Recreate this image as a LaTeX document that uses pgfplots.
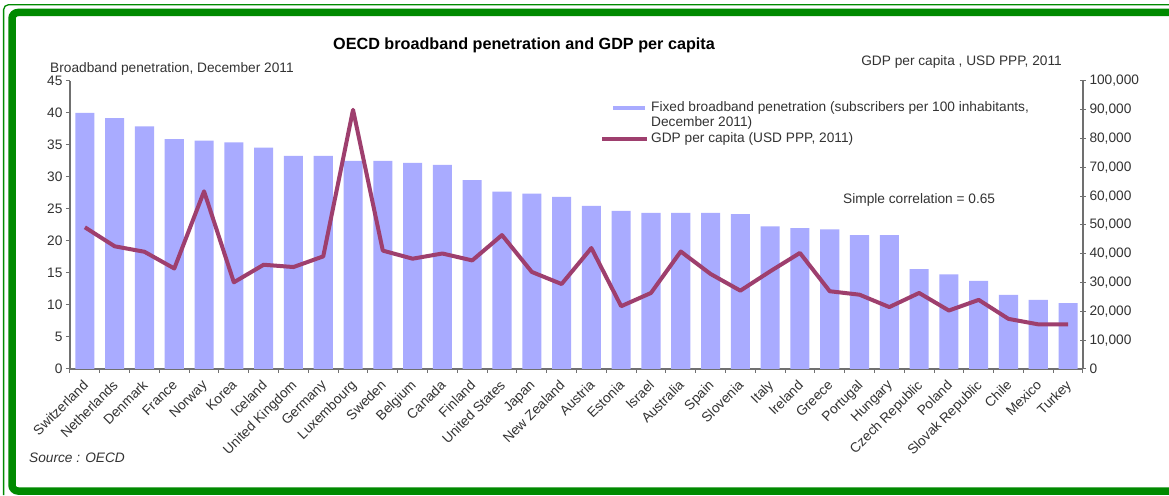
\documentclass[border=0pt]{standalone}
\usepackage{fontspec}
\setmainfont{Liberation Sans}
\usepackage{pgfplots}
\pgfplotsset{compat=1.18}
\definecolor{barcol}{HTML}{A9ABFF}
\definecolor{linecol}{HTML}{9E3F6E}
\definecolor{framecol}{HTML}{008A00}
\definecolor{axcol}{HTML}{707070}
\definecolor{txt}{HTML}{333333}
\newcommand{\fs}{\fontsize{13.7}{16}\selectfont}
\newcommand{\ft}{\fontsize{13.7}{16}\selectfont}
\begin{document}
\begin{tikzpicture}[x=1pt,y=1pt]
\useasboundingbox (0,0) rectangle (1169,495);
\fill[white] (0,0) rectangle (1169,495);
\draw[framecol, line width=1.3pt, rounded corners=5pt] (3.6,0) -- (3.6,490.3) -- (1169,490.3);
\draw[framecol, line width=7.5pt, rounded corners=6pt] (1169,482.5) -- (12,482.5) -- (12,4) -- (1169,4);

\begin{axis}[
  at={(70pt,126pt)}, anchor=south west, scale only axis,
  width=1013pt, height=288pt,
  xmin=-0.5, xmax=33.5, ymin=0, ymax=45,
  axis x line*=bottom, axis y line*=left,
  axis line style={axcol, line width=1.5pt},
  ytick={0,5,...,45},
  xtick={0,...,33},
  xticklabels={Switzerland,Netherlands,Denmark,France,Norway,Korea,Iceland,United Kingdom,Germany,Luxembourg,Sweden,Belgium,Canada,Finland,United States,Japan,New Zealand,Austria,Estonia,Israel,Australia,Spain,Slovenia,Italy,Ireland,Greece,Portugal,Hungary,Czech Republic,Poland,Slovak Republic,Chile,Mexico,Turkey},
  minor xtick={-0.5,0.5,...,33.5},
  major x tick style={draw=none},
  major tick length=4pt, minor tick length=4pt,
  tick align=outside,
  tick style={axcol, line width=1pt},
  ticklabel style={font=\fs, text=txt},
  xticklabel style={xshift=-3pt, yshift=-6pt, rotate=45, anchor=north east, inner sep=0pt},
  /pgf/number format/assume math mode=true,
  clip=false,
]
\addplot[ybar, bar width=0.64, fill=barcol, draw=none] coordinates {
(0,40.0) (1,39.2) (2,37.9) (3,35.9) (4,35.7) (5,35.4) (6,34.6) (7,33.3) (8,33.3) (9,32.5)
(10,32.5) (11,32.2) (12,31.9) (13,29.5) (14,27.7) (15,27.4) (16,26.9) (17,25.5) (18,24.7) (19,24.4)
(20,24.4) (21,24.4) (22,24.2) (23,22.3) (24,22.0) (25,21.8) (26,20.9) (27,20.9) (28,15.6) (29,14.8)
(30,13.75) (31,11.6) (32,10.8) (33,10.3)};
\end{axis}

\begin{axis}[
  at={(70pt,126pt)}, anchor=south west, scale only axis,
  width=1013pt, height=288pt,
  xmin=-0.5, xmax=33.5, ymin=0, ymax=100000,
  axis y line*=right, axis x line=none,
  axis line style={axcol, line width=1.5pt},
  ytick={0,10000,...,100000},
  scaled y ticks=false,
  yticklabel style={/pgf/number format/.cd, fixed, 1000 sep={,}},
  tick align=center, major tick length=6pt,
  tick style={axcol, line width=1pt},
  ticklabel style={font=\fs, text=txt},
  /pgf/number format/assume math mode=true,
  clip=false,
  legend style={at={(0.5232,0.932)}, anchor=north west, draw=none, fill=none,
     font=\ft, text=txt, inner sep=0pt, row sep=1.8pt,
     nodes={inner ysep=0.5pt, inner xsep=2pt, text height=10pt, text depth=2.8pt}},
  legend cell align=left,
]
\addlegendimage{legend image code/.code={\draw[barcol, line width=4pt] (11pt,0pt) -- (43pt,0pt);}}
\addlegendentry{Fixed broadband penetration (subscribers per 100 inhabitants,}
\addlegendimage{empty legend}
\addlegendentry{December 2011)}
\addplot[linecol, line width=4pt, line join=round,
  legend image code/.code={\draw[linecol, line width=4pt] (0pt,0pt) -- (45pt,0pt);}] coordinates {
(0,49200) (1,42600) (2,40700) (3,34900) (4,61700) (5,30100) (6,36200) (7,35400) (8,39100) (9,90000)
(10,41100) (11,38300) (12,40100) (13,37700) (14,46500) (15,33700) (16,29500) (17,42000) (18,21800) (19,26400)
(20,40800) (21,33000) (22,27200) (23,33900) (24,40300) (25,27000) (26,25800) (27,21500) (28,26400) (29,20300)
(30,24000) (31,17400) (32,15500) (33,15500)};
\addlegendentry{GDP per capita (USD PPP, 2011)}
\end{axis}

\node[font=\bfseries\fontsize{16.2}{18}\selectfont, text=black, anchor=base] at (524,445) {OECD broadband penetration and GDP per capita};
\node[font=\ft, text=txt, anchor=base west, inner sep=0pt] at (50,422) {Broadband penetration, December 2011};
\node[font=\ft, text=txt, anchor=base east, inner sep=0pt] at (1062,429) {GDP per capita , USD PPP, 2011};
\node[font=\ft, text=txt, anchor=base west, inner sep=0pt] at (843,291) {Simple correlation = 0.65};
\node[font=\ft\itshape, text=txt, anchor=base west, inner sep=0pt] at (29,32) {Source : OECD};
\end{tikzpicture}
\end{document}
